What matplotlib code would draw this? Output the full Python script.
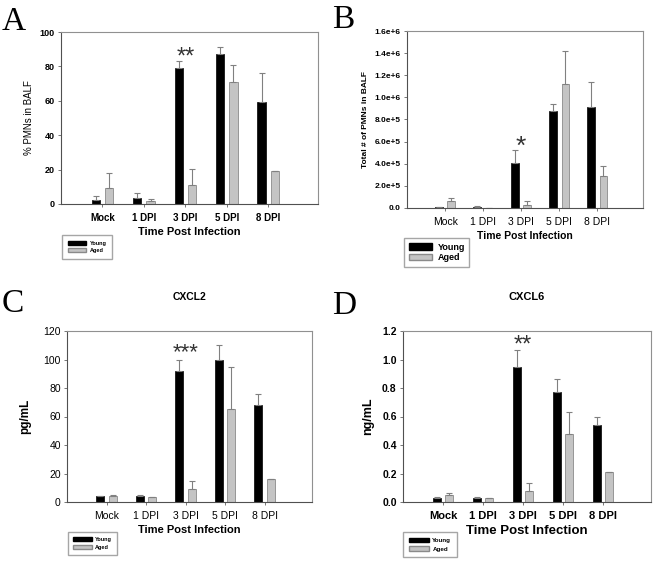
import numpy as np
from matplotlib import pyplot as plt
from matplotlib.patches import Patch

plt.rcParams['font.family'] = ['Liberation Sans', 'DejaVu Sans']

categories = ["Mock", "1 DPI", "3 DPI", "5 DPI", "8 DPI"]

# --- panel A: % PMNs in BALF ---
a_young = [2.5, 3.5, 79, 87, 59.5]
a_young_err = [2, 3, 4, 4, 16.5]
a_aged = [9.5, 2, 11, 71, 19]
a_aged_err = [8.5, 1, 9.5, 10, 0]

# --- panel B: total # of PMNs ---
b_young = [5e3, 1e4, 4.1e5, 8.8e5, 9.1e5]
b_young_err = [2e3, 5e3, 1.1e5, 6e4, 2.3e5]
b_aged = [6e4, 3e3, 3e4, 1.12e6, 2.9e5]
b_aged_err = [3e4, 1e3, 3e4, 3e5, 9e4]
b_ticks = [0, 2e5, 4e5, 6e5, 8e5, 1e6, 1.2e6, 1.4e6, 1.6e6]
b_ticklabels = ["0.0", "2.0e+5", "4.0e+5", "6.0e+5", "8.0e+5",
                "1.0e+6", "1.2e+6", "1.4e+6", "1.6e+6"]

# --- panel C: CXCL2 ---
c_young = [4, 4.5, 92, 100, 68]
c_young_err = [0.5, 0.5, 8, 10, 8]
c_aged = [4.5, 3.5, 9, 65, 16]
c_aged_err = [0.5, 0.3, 6, 30, 0]

# --- panel D: CXCL6 ---
d_young = [0.03, 0.025, 0.95, 0.77, 0.54]
d_young_err = [0.005, 0.008, 0.12, 0.09, 0.06]
d_aged = [0.05, 0.025, 0.08, 0.48, 0.21]
d_aged_err = [0.01, 0.005, 0.05, 0.15, 0]

W, H = 667, 562


def px_axes(fig, left, top, right, bottom):
    return fig.add_axes([left / W, 1 - bottom / H, (right - left) / W, (bottom - top) / H])


def bars(ax, young, young_err, aged, aged_err, ymax, yticks, ytick_size, ytick_bold,
         xtick_size, xtick_bold, xlabel_size):
    x = np.arange(1, len(categories) + 1)
    w = 0.2
    off = 0.16
    ekw = dict(ecolor="#808080", elinewidth=0.8, capsize=2, capthick=0.8)
    ax.bar(x - off, young, w, color="black", edgecolor="black", linewidth=0.5,
           yerr=[np.zeros(len(young)), young_err], error_kw=ekw)
    ax.bar(x + off, aged, w, color="#c4c4c4", edgecolor="#8a8a8a", linewidth=0.6,
           yerr=[np.zeros(len(aged)), aged_err], error_kw=ekw)
    ax.set_xlim(0, 6.2)
    ax.set_ylim(0, ymax)
    ax.set_yticks(yticks)
    ax.set_xticks(x)
    ax.set_xticklabels(categories, fontsize=xtick_size,
                       fontweight="bold" if xtick_bold else "normal")
    for lab in ax.get_yticklabels():
        lab.set_fontsize(ytick_size)
        lab.set_fontweight("bold" if ytick_bold else "normal")
    ax.tick_params(direction="out", length=2.5, width=0.6, color="#606060", pad=2)
    ax.tick_params(axis="x", pad=4)
    for s in ax.spines.values():
        s.set_color("#909090")
        s.set_linewidth(0.8)
    ax.spines["left"].set_color("#505050")
    ax.spines["bottom"].set_color("#505050")
    ax.set_xlabel("Time Post Infection", fontsize=xlabel_size, fontweight="bold", labelpad=3)


def legend(fig, left, top, size, hlen=2.6, bpad=0.5, lspace=0.2):
    handles = [Patch(facecolor="black", edgecolor="black", label="Young"),
               Patch(facecolor="#c4c4c4", edgecolor="#8a8a8a", label="Aged")]
    fig.legend(handles=handles, loc="upper left", bbox_to_anchor=(left / W, 1 - top / H),
               frameon=True, fancybox=False, edgecolor="#909090",
               prop=dict(size=size, weight="bold"), handlelength=hlen, handleheight=0.7,
               labelspacing=lspace, borderpad=bpad, handletextpad=0.6, borderaxespad=0)


fig = plt.figure(figsize=(W / 100, H / 100), dpi=100)

# A
axA = px_axes(fig, 61, 32, 318, 204)
bars(axA, a_young, a_young_err, a_aged, a_aged_err, 100, [0, 20, 40, 60, 80, 100],
     6.5, True, 7, True, 8)
axA.set_ylabel("% PMNs in BALF", fontsize=7, labelpad=4)
axA.text(3, 85, "**", ha="center", va="center", fontsize=17, color="#333333")
legend(fig, 62, 235, 4, hlen=3.4, bpad=1.0, lspace=0.5)

# B
axB = px_axes(fig, 407, 31, 643, 208)
bars(axB, b_young, b_young_err, b_aged, b_aged_err, 1.6e6, b_ticks,
     6, True, 7.5, False, 7.5)
axB.set_yticklabels(b_ticklabels, fontsize=6, fontweight="bold")
axB.set_ylabel("Total # of PMNs in BALF", fontsize=6, fontweight="bold", labelpad=4)
axB.text(3, 5.5e5, "*", ha="center", va="center", fontsize=19, color="#333333")
legend(fig, 404, 238, 6.5)

# C
axC = px_axes(fig, 67, 331, 312, 502)
bars(axC, c_young, c_young_err, c_aged, c_aged_err, 120, [0, 20, 40, 60, 80, 100, 120],
     7.5, False, 7.5, False, 8)
axC.set_ylabel("pg/mL", fontsize=8.5, fontweight="bold", labelpad=9)
axC.set_title("CXCL2", fontsize=7.5, fontweight="bold", pad=22)
axC.text(3, 105, "***", ha="center", va="center", fontsize=16, color="#333333")
legend(fig, 68, 532, 4, hlen=3.4, bpad=0.9, lspace=0.5)

# D
axD = px_axes(fig, 403, 331, 651, 502)
bars(axD, d_young, d_young_err, d_aged, d_aged_err, 1.2, [0, 0.2, 0.4, 0.6, 0.8, 1.0, 1.2],
     7.5, True, 8, True, 9.5)
axD.set_yticklabels(["0.0", "0.2", "0.4", "0.6", "0.8", "1.0", "1.2"],
                    fontsize=7.5, fontweight="bold")
axD.set_ylabel("ng/mL", fontsize=9, fontweight="bold", labelpad=6)
axD.set_title("CXCL6", fontsize=8, fontweight="bold", pad=22)
axD.text(3, 1.10, "**", ha="center", va="center", fontsize=17, color="#333333")
legend(fig, 403, 532, 4.5, hlen=3.2, bpad=0.9, lspace=0.5)

# panel letters
for lab, xp, yp in [("A", 2, 6), ("B", 332, 5), ("C", 2, 288), ("D", 332, 290)]:
    fig.text(xp / W, 1 - yp / H, lab, fontsize=24, family="Liberation Serif",
             ha="left", va="top")

fig.savefig("out.png", dpi=100)
